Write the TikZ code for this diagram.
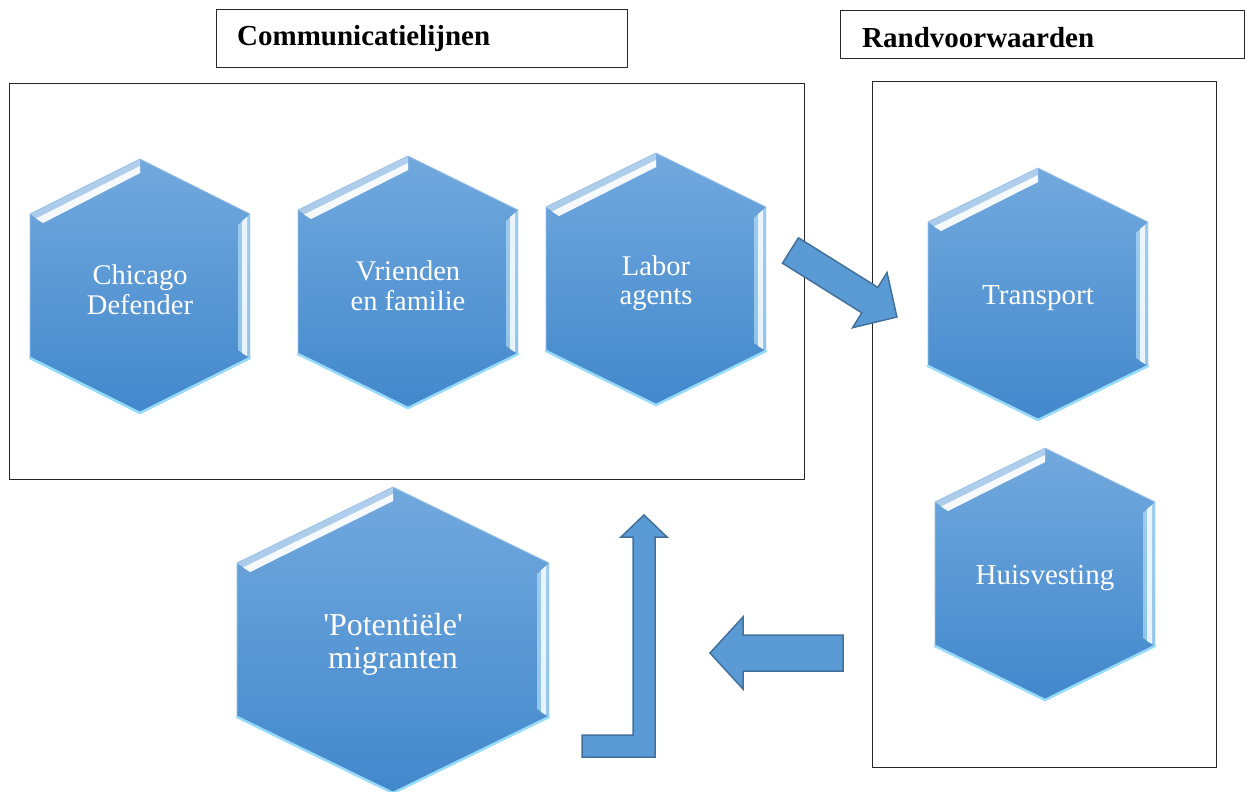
\documentclass[tikz,border=0pt]{standalone}
\usepackage{fontspec}
\setmainfont{Liberation Serif}[Ligatures=TeXOff]
\usetikzlibrary{positioning}

\definecolor{hexTop}{RGB}{114,169,222}
\definecolor{hexBot}{RGB}{66,136,204}
\definecolor{hexRim}{RGB}{150,218,252}
\definecolor{arrowFill}{RGB}{91,155,213}
\definecolor{arrowLine}{RGB}{65,113,156}

\begin{document}
\begin{tikzpicture}[line cap=round,line join=round,x=1pt,y=-1pt,
	framebox/.style={draw=black!85,line width=1.3pt,inner sep=0pt,anchor=north west},
	titletext/.style={font=\fontsize{29}{30}\selectfont\bfseries,inner sep=0pt,anchor=base west},
	hexlabel/.style={text=white,align=center,inner sep=0pt},
	blockarrow/.style={fill=arrowFill,draw=arrowLine,line width=1.5pt,line join=miter}]
				\useasboundingbox (0,0) rectangle (1251,792);

				% kaders
				\node[framebox,minimum width=411pt,minimum height=58pt] (commbox) at (216,9) {};
				\node[titletext] (commtitle) at (237,46) {Communicatielijnen};
				\node[framebox,minimum width=404pt,minimum height=48pt] (randbox) at (840,10) {};
				\node[titletext] (randtitle) at (862,48) {Randvoorwaarden};
				\node[framebox,minimum width=795pt,minimum height=396pt] (commframe) at (9,83) {};
				\node[framebox,minimum width=344pt,minimum height=686pt] (randframe) at (872,81) {};

				% zeshoeken
				\foreach \n/\cx/\cy/\w/\h/\s/\fs/\ls/\txt in {
					chicago/140/286/110/127/72/28.5/29.5/{Chicago\\Defender},
					vrienden/408/282/110/126/72/28.5/29.5/{Vrienden\\en familie},
					labor/656/279/110/126/72/28.5/29.5/{Labor\\agents},
					transport/1038/294/110/126/72/29/30/{Transport},
					huisvesting/1045/574/110/126/72/29/30/{Huisvesting},
					migranten/393/640/156/153/77/32/33/{'Potentiële'\\migranten}}
				{
				\shade[top color=hexTop,bottom color=hexBot] (\cx,\cy-\h) -- (\cx+\w,\cy-\s) -- (\cx+\w,\cy+\s) -- (\cx,\cy+\h) -- (\cx-\w,\cy+\s) -- (\cx-\w,\cy-\s) -- cycle;
				\fill[white,fill opacity=0.45] (\cx-\w,\cy-\s) -- (\cx,\cy-\h) -- (\cx,\cy-\h+14) -- (\cx-\w+13,\cy-\s+9) -- cycle;
				\fill[white,fill opacity=0.9] (\cx-\w+6,\cy-\s+4.5) -- (\cx,\cy-\h+7) -- (\cx,\cy-\h+14) -- (\cx-\w+13,\cy-\s+9) -- cycle;
				\fill[hexRim!60!white,fill opacity=0.6] (\cx+\w,\cy-\s) -- (\cx+\w,\cy+\s) -- (\cx+\w-12,\cy+\s-8) -- (\cx+\w-12,\cy-\s+11) -- cycle;
				\fill[white,fill opacity=0.8] (\cx+\w-3,\cy-\s+3) -- (\cx+\w-3,\cy+\s-2) -- (\cx+\w-8,\cy+\s-5) -- (\cx+\w-8,\cy-\s+7) -- cycle;
				\draw[hexRim,line width=2.5pt] (\cx-\w,\cy+\s) -- (\cx,\cy+\h) -- (\cx+\w,\cy+\s);
				\draw[hexTop!70!white,line width=0.8pt] (\cx-\w,\cy+\s) -- (\cx-\w,\cy-\s) -- (\cx,\cy-\h) -- (\cx+\w,\cy-\s);
				\node[hexlabel,font=\fontsize{\fs}{\ls}\selectfont] (\n) at (\cx,\cy+4) {\txt};
				}

				% pijlen
				\draw[blockarrow] (782.5,263.2) -- (798.4,237.8) -- (877.8,287.4) -- (887,272.5) -- (896.9,317) -- (852.6,327.7) -- (861.8,312.8) -- cycle;
				\draw[blockarrow] (843,635) -- (743,635) -- (743,617) -- (710,653) -- (743,689) -- (743,671) -- (843,671) -- cycle;
				\draw[blockarrow] (582,735) -- (633,735) -- (633,537) -- (621,537) -- (644,515) -- (667,537) -- (655,537) -- (655,757) -- (582,757) -- cycle;
\end{tikzpicture}
\end{document}
